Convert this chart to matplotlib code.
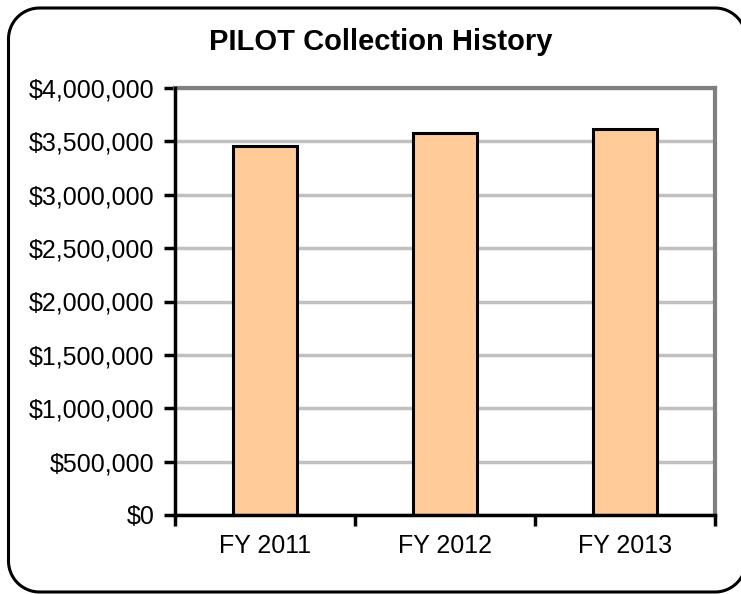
import matplotlib.pyplot as plt
import numpy as np
from matplotlib.ticker import FuncFormatter, FixedLocator

years = ['FY 2011', 'FY 2012', 'FY 2013']
collections = [3458000, 3580000, 3615000]
y_ticks = [0, 500000, 1000000, 1500000, 2000000, 2500000, 3000000, 3500000, 4000000]

plt.rcParams['font.family'] = ['Liberation Sans', 'DejaVu Sans']


def rounded_frame(x0, y0, x1, y1, r, n=24):
    # polyline of a rounded rectangle (inches), corners as sampled arcs
    pts = []
    corners = [(x1 - r, y1 - r, 0), (x0 + r, y1 - r, 90),
               (x0 + r, y0 + r, 180), (x1 - r, y0 + r, 270)]
    for cx, cy, start in corners:
        a = np.radians(np.linspace(start, start + 90, n))
        pts.extend(zip(cx + r * np.cos(a), cy + r * np.sin(a)))
    pts.append(pts[0])
    return np.array(pts)


fig = plt.figure(figsize=(7.41, 5.94), dpi=100)

fx, fy = rounded_frame(0.085, 0.02, 7.46, 5.86, 0.31).T
fig.add_artist(plt.Line2D(fx, fy, transform=fig.dpi_scale_trans,
                          color='black', linewidth=2.2))

ax = fig.add_axes([175 / 741, 1 - 515 / 594, 540 / 741, 427 / 594])

x = range(len(years))
ax.bar(x, collections, width=0.36, color='#ffcc99', edgecolor='black',
       linewidth=2.2, zorder=3)

ax.set_xlim(-0.5, len(years) - 0.5)
ax.set_ylim(0, 4000000)
ax.set_yticks(y_ticks)
ax.yaxis.set_major_formatter(FuncFormatter(lambda v, p: f'${v:,.0f}'))
ax.xaxis.set_major_locator(FixedLocator([-0.5, 0.5, 1.5, 2.5]))
ax.set_xticklabels([])
ax.set_xticks(list(x), minor=True)
ax.set_xticklabels(years, minor=True)
ax.tick_params(axis='x', which='minor', length=0, labelsize=18, pad=14)
ax.tick_params(axis='x', which='major', length=8, width=2.5, direction='out')
ax.tick_params(axis='y', length=8, width=2.5, direction='out', labelsize=18, pad=7)

ax.grid(axis='y', color='#c0c0c0', linewidth=2.5, zorder=0)
ax.set_axisbelow(True)

for side in ['left', 'bottom']:
    ax.spines[side].set_color('black')
    ax.spines[side].set_linewidth(2.5)
    ax.spines[side].set_zorder(4)
for side in ['top', 'right']:
    ax.spines[side].set_color('#808080')
    ax.spines[side].set_linewidth(3)

fig.text(381 / 741, 1 - 42 / 594, 'PILOT Collection History', ha='center', va='center',
         fontsize=21, fontweight='bold')

fig.savefig('out.png', dpi=100)
